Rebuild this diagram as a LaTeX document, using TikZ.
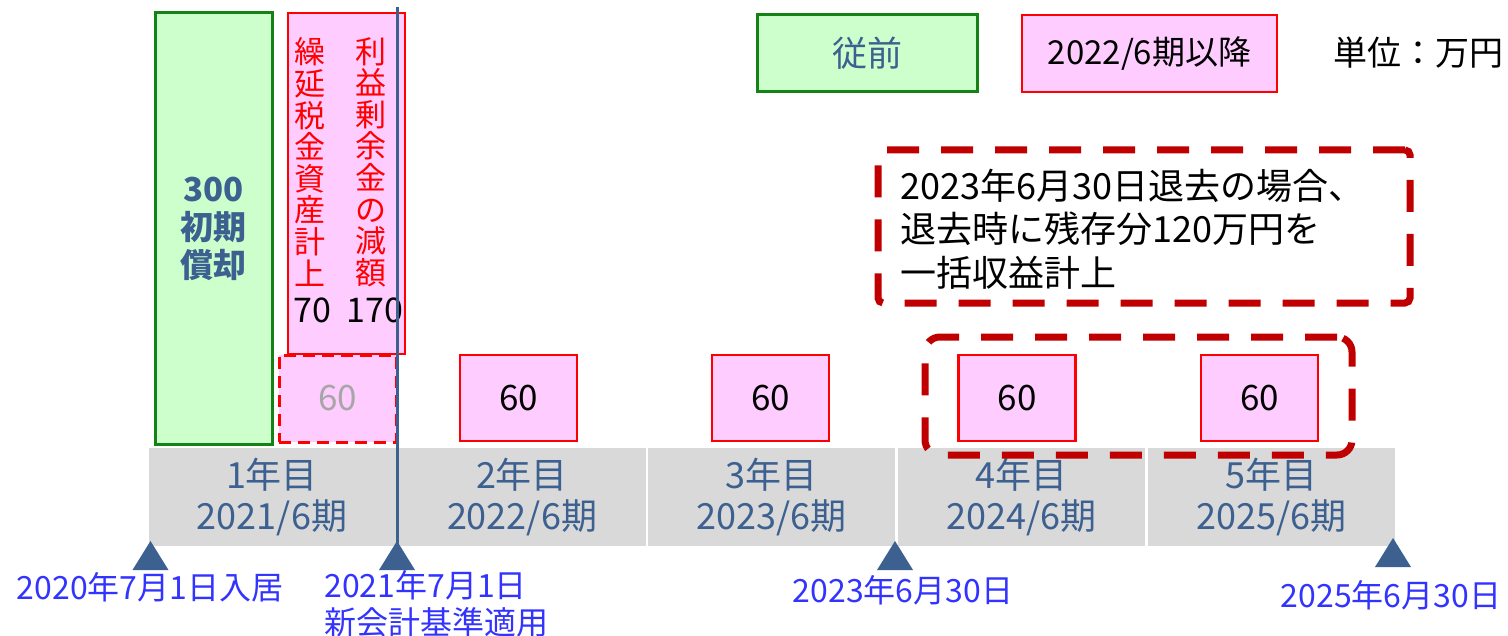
\documentclass[tikz,border=0pt]{standalone}
\usepackage{fontspec}
\setmainfont{Noto Sans CJK JP}
\definecolor{steel}{RGB}{60,96,143}
\definecolor{dkgreen}{RGB}{20,130,20}
\definecolor{ltgreen}{RGB}{204,255,204}
\definecolor{pinkf}{RGB}{255,204,255}
\definecolor{dkred}{RGB}{192,0,0}
\definecolor{greybar}{RGB}{217,217,217}
\definecolor{dateblue}{RGB}{51,51,255}
\definecolor{grey60}{RGB}{166,166,166}
\begin{document}
\begin{tikzpicture}[x=0.5pt,y=-0.5pt,
  box/.style={inner sep=0pt, outer sep=0pt},
  greenbox/.style={box, draw=dkgreen, fill=ltgreen, line width=1.5pt},
  pinkbox/.style={box, draw=red, fill=pinkf, line width=1.2pt},
  val/.style={pinkbox, minimum width=58.5pt, minimum height=43pt, font=\fontsize{17.5}{20}\selectfont},
  yearbox/.style={box, fill=greybar, minimum width=123.5pt, minimum height=49pt, text=steel, align=center, font=\fontsize{18}{20.5}\selectfont},
  datelbl/.style={text=dateblue, font=\fontsize{16}{18.5}\selectfont, inner sep=0pt},
  bignote/.style={box, draw=dkred, line width=3.5pt, dash pattern=on 16pt off 11pt, rounded corners=2.5pt},
  vcol/.style={text=red, align=center, inner sep=0pt, font=\fontsize{15.5}{15.8}\selectfont},
  tri/.style={fill=steel}
]
\useasboundingbox (0,0) rectangle (1508,636);

% year bar
\node[yearbox] (y1) at (272,497) {1年目\\2021/6期};
\node[yearbox] (y2) at (522,497) {2年目\\2022/6期};
\node[yearbox] (y3) at (771.5,497) {3年目\\2023/6期};
\node[yearbox] (y4) at (1021.5,497) {4年目\\2024/6期};
\node[yearbox] (y5) at (1271.5,497) {5年目\\2025/6期};

% green initial box
\node[greenbox, minimum width=58.5pt, minimum height=215.5pt, align=center,
  text=steel, font=\fontsize{16.5}{19}\selectfont\bfseries] (init) at (213.5,228.5) {300\\初期\\償却};

% pink tall box
\node[pinkbox, minimum width=58.5pt, minimum height=170.5pt] (tall) at (346.5,183.5) {};
\node[vcol] (c1) at (310,162) {繰\\延\\税\\金\\資\\産\\計\\上};
\node[vcol] (c2) at (371,162) {利\\益\\剰\\余\\金\\の\\減\\額};
\node[inner sep=0pt, font=\fontsize{17}{19}\selectfont] (n70) at (312,310) {70};
\node[inner sep=0pt, font=\fontsize{17}{19}\selectfont] (n170) at (375,310) {170};

% dashed first-year 60
\node[box, draw=red, fill=pinkf, line width=1.5pt, dash pattern=on 6pt off 3.5pt,
  minimum width=58.5pt, minimum height=43.5pt, text=grey60, font=\fontsize{17.5}{20}\selectfont] (v1) at (337.5,398.5) {60};

% value boxes
\node[val] (v2) at (518.5,398) {60};
\node[val] (v3) at (770.5,398) {60};
\node[val] (v4) at (1017,398) {60};
\node[val] (v5) at (1259.5,398) {60};

% lower dashed group
\node[bignote, rounded corners=7.5pt, minimum width=213.5pt, minimum height=59pt] (grp) at (1138.5,396) {};

% note box
\node[bignote, minimum width=266pt, minimum height=76.5pt] (note) at (1144,226.5) {};
\node[anchor=west, align=left, inner sep=0pt, font=\fontsize{18}{21.75}\selectfont] (notetxt) at (900,229)
  {2023年6月30日退去の場合、\\退去時に残存分120万円を\\一括収益計上};

% legend
\node[greenbox, minimum width=110pt, minimum height=38.5pt, text=steel, font=\fontsize{17.5}{20}\selectfont] (lg1) at (867,53.5) {従前};
\node[pinkbox, minimum width=127.5pt, minimum height=38.5pt, font=\fontsize{16.5}{20}\selectfont] (lg2) at (1149.5,53.5) {2022/6期以降};
\node[inner sep=0pt, font=\fontsize{17}{20}\selectfont] (unit) at (1418,53) {単位：万円};

% vertical line
\coordinate (ltop) at (397,7);
\coordinate (lbot) at (397,548);
\draw[steel, line width=1.5pt] (ltop) -- (lbot);

% triangles
\foreach \tx/\ty in {150.5/541, 397/541, 895/541, 1393/538}{
  \fill[tri] (\tx,\ty) -- (\tx-18,\ty+29) -- (\tx+18,\ty+29) -- cycle;
}

% date labels
\node[datelbl] (d1) at (150,587) {2020年7月1日入居};
\node[datelbl, anchor=west, align=left] (d2) at (324,603.5) {2021年7月1日\\新会計基準適用};
\node[datelbl] (d3) at (903,590) {2023年6月30日};
\node[datelbl] (d4) at (1391,595) {2025年6月30日};
\end{tikzpicture}
\end{document}
